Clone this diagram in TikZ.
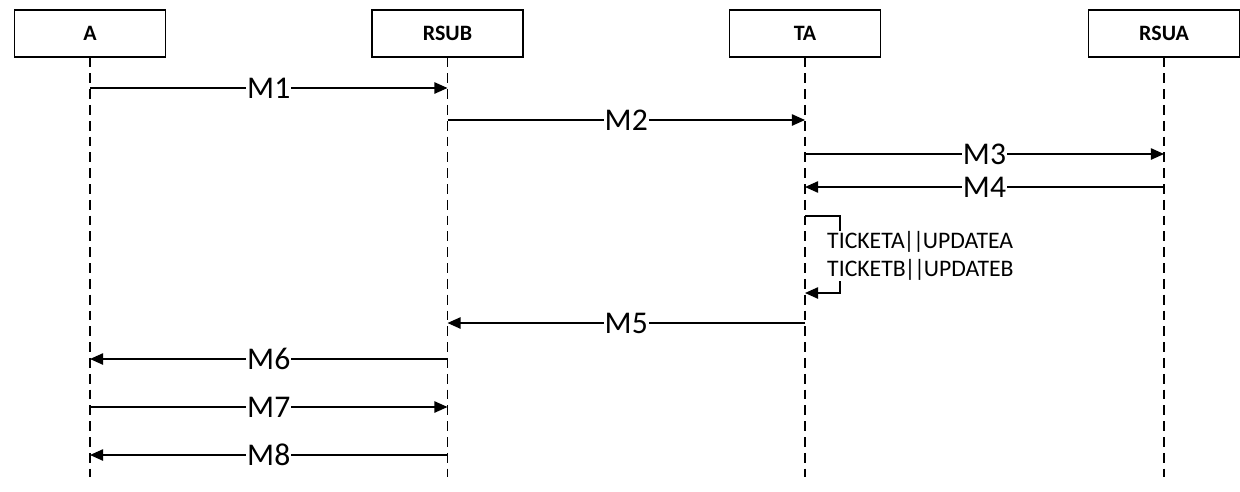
\documentclass[tikz,border=0pt]{standalone}
\usepackage{fontspec}
\setmainfont{Carlito}
\usetikzlibrary{arrows.meta}

\tikzset{
  actor/.style={draw, line width=0.6pt, minimum width=3.02cm, minimum height=0.94cm,
                font=\fontsize{12.5}{13}\selectfont\bfseries},
  lifeline/.style={dashed, dash pattern=on 5.6pt off 3.4pt, line width=0.8pt},
  msg/.style={-{Triangle[length=7.5pt,width=6.5pt]}, line width=0.85pt},
  lbl/.style={fill=white, inner sep=0.6pt, font=\fontsize{18}{20}\selectfont},
  note/.style={anchor=west, fill=white, inner sep=0.5pt, align=left,
               font=\fontsize{13.5}{15.6}\selectfont}
}
\newcommand{\drawmsg}[4]
{
  \draw [msg] (#1 |- #3) -- node[lbl]{#4} (#2 |- #3);
}
\newcommand{\bars}{\kern-0.6pt|\kern-0.9pt|\kern-0.6pt}

\begin{document}
\begin{tikzpicture}[x=0.02cm, y=-0.02cm]
    \useasboundingbox (0,0) rectangle (1240,491);

    % participants
    \node[actor] (A)    at (90,33.5)   {A};
    \node[actor] (RSUB) at (447.5,33.5) {RSUB};
    \node[actor] (TA)   at (805,33.5)  {TA};
    \node[actor] (RSUA) at (1164,33.5) {RSUA};

    % lifelines
    \coordinate (bottom) at (0,477);
    \foreach \p in {A,RSUB,TA,RSUA}
      \draw [lifeline] (\p.south) -- (\p |- bottom);

    % message rows
    \coordinate (r1) at (0,88);
    \coordinate (r2) at (0,120);
    \coordinate (r3) at (0,154);
    \coordinate (r4) at (0,187);
    \coordinate (r5) at (0,323);
    \coordinate (r6) at (0,359);
    \coordinate (r7) at (0,407);
    \coordinate (r8) at (0,455);

    \drawmsg{A}{RSUB}{r1}{M1}
    \drawmsg{RSUB}{TA}{r2}{M2}
    \drawmsg{TA}{RSUA}{r3}{M3}
    \drawmsg{RSUA}{TA}{r4}{M4}

    % self message at TA, text laid over the loop
    \coordinate (loopt) at (0,216);
    \coordinate (loopb) at (0,293);
    \draw [msg] (TA |- loopt) -- ++(35,0) |- (TA |- loopb);
    \node[note] (tick) at (826,256) {TICKETA\bars UPDATEA\\TICKETB\bars UPDATEB};

    \drawmsg{TA}{RSUB}{r5}{M5}
    \drawmsg{RSUB}{A}{r6}{M6}
    \drawmsg{A}{RSUB}{r7}{M7}
    \drawmsg{RSUB}{A}{r8}{M8}
\end{tikzpicture}
\end{document}
